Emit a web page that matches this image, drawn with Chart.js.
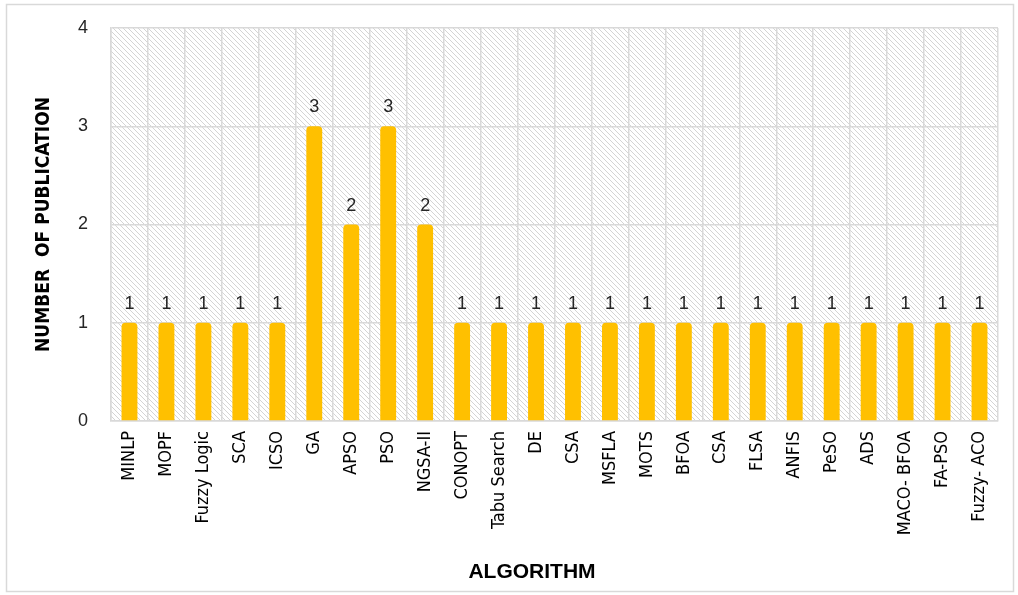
<!doctype html>
<html>
<head>
    <meta charset="UTF-8"/>
    <title>Publications per Algorithm</title>
    <script src="https://cdn.jsdelivr.net/npm/chart.js@4.4.1/dist/chart.umd.min.js"></script>
</head>
<body style="margin: 0; background: #fff;">
<div style="width: 1018px; height: 595px; position: relative;">
    <canvas id="myChart"></canvas>
</div>

<script>
    // publications found for each optimisation algorithm
    const algorithms = ['MINLP', 'MOPF', 'Fuzzy Logic', 'SCA', 'ICSO', 'GA', 'APSO', 'PSO', 'NGSA-II', 'CONOPT',
        'Tabu Search', 'DE', 'CSA', 'MSFLA', 'MOTS', 'BFOA', 'CSA', 'FLSA', 'ANFIS', 'PeSO', 'ADS',
        'MACO- BFOA', 'FA-PSO', 'Fuzzy- ACO'];
    const publications = [1, 1, 1, 1, 1, 3, 2, 3, 2, 1, 1, 1, 1, 1, 1, 1, 1, 1, 1, 1, 1, 1, 1, 1];
    const yTicks = [0, 1, 2, 3, 4];

    const narrow = '"Liberation Sans Narrow", "DejaVu Sans Condensed", "Liberation Sans", sans-serif';
    const sans = '"Liberation Sans", Arial, sans-serif';

    // diagonal hatching behind the bars
    function hatch(ctx) {
        const s = 5;
        const tile = document.createElement('canvas');
        tile.width = s;
        tile.height = s;
        const t = tile.getContext('2d');
        t.fillStyle = '#ffffff';
        t.fillRect(0, 0, s, s);
        t.strokeStyle = '#d4d4d4';
        t.lineWidth = 1;
        for (let k = -1; k <= 1; k++) {
            t.beginPath();
            t.moveTo(k * s, 0);
            t.lineTo(k * s + s, s);
            t.stroke();
        }
        return ctx.createPattern(tile, 'repeat');
    }

    const background = {
        id: 'background',
        beforeDraw(chart) {
            const {ctx, chartArea: a, width, height} = chart;
            ctx.save();
            ctx.strokeStyle = '#d9d9d9';
            ctx.lineWidth = 1.5;
            ctx.strokeRect(6.5, 4.5, width - 11, height - 8);
            ctx.fillStyle = hatch(ctx);
            ctx.fillRect(a.left, a.top, a.right - a.left, a.bottom - a.top);
            ctx.restore();
        }
    };

    // value above each bar, plus the x axis title
    const valueLabels = {
        id: 'valueLabels',
        afterDatasetsDraw(chart) {
            const {ctx} = chart;
            const meta = chart.getDatasetMeta(0);
            ctx.save();
            ctx.fillStyle = '#262626';
            ctx.font = '18px ' + sans;
            ctx.textAlign = 'center';
            ctx.textBaseline = 'alphabetic';
            meta.data.forEach((bar, i) => {
                ctx.fillText(publications[i], bar.x, bar.y - 14);
            });
            ctx.fillStyle = '#000';
            ctx.font = 'bold 21px ' + sans;
            ctx.textBaseline = 'middle';
            ctx.fillText('ALGORITHM', 532, 572);
            ctx.restore();
        }
    };

    const ctx = document.getElementById('myChart').getContext('2d');
    const myChart = new Chart(ctx, {
        type: 'bar',
        data: {
            labels: algorithms,
            datasets: [{
                label: 'Number of publication',
                data: publications,
                backgroundColor: '#ffc000',
                borderRadius: {topLeft: 4, topRight: 4},
                borderSkipped: 'bottom',
                categoryPercentage: 1,
                barPercentage: 0.43
            }]
        },
        options: {
            responsive: true,
            maintainAspectRatio: false,
            animation: false,
            layout: {padding: {left: 6, top: 28, right: 20, bottom: 6}},
            plugins: {
                legend: {display: false},
                tooltip: {enabled: false}
            },
            scales: {
                x: {
                    afterFit: (scale) => {
                        scale.height = 168;
                    },
                    grid: {color: '#d9d9d9', lineWidth: 1.5, offset: true, drawTicks: false},
                    border: {color: '#d9d9d9', width: 1.5},
                    ticks: {
                        color: '#000',
                        font: {family: narrow, size: 18},
                        maxRotation: 90,
                        minRotation: 90,
                        padding: 10,
                        autoSkip: false
                    }
                },
                y: {
                    min: 0,
                    max: 4,
                    afterBuildTicks: (scale) => {
                        scale.ticks = yTicks.map((v) => ({value: v}));
                    },
                    afterFit: (scale) => {
                        scale.width = 105;
                        scale.paddingTop = 0;
                        scale.paddingBottom = 0;
                    },
                    grid: {color: '#d9d9d9', lineWidth: 1.5, drawTicks: false},
                    border: {color: '#d9d9d9', width: 1.5},
                    ticks: {
                        color: '#262626',
                        font: {family: sans, size: 18},
                        padding: 23
                    },
                    title: {
                        display: true,
                        text: 'NUMBER  OF PUBLICATION',
                        color: '#000',
                        font: {family: narrow, size: 19, weight: 'bold'},
                        padding: {top: 27, bottom: 0}
                    }
                }
            }
        },
        plugins: [background, valueLabels]
    });
</script>
</body>
</html>
